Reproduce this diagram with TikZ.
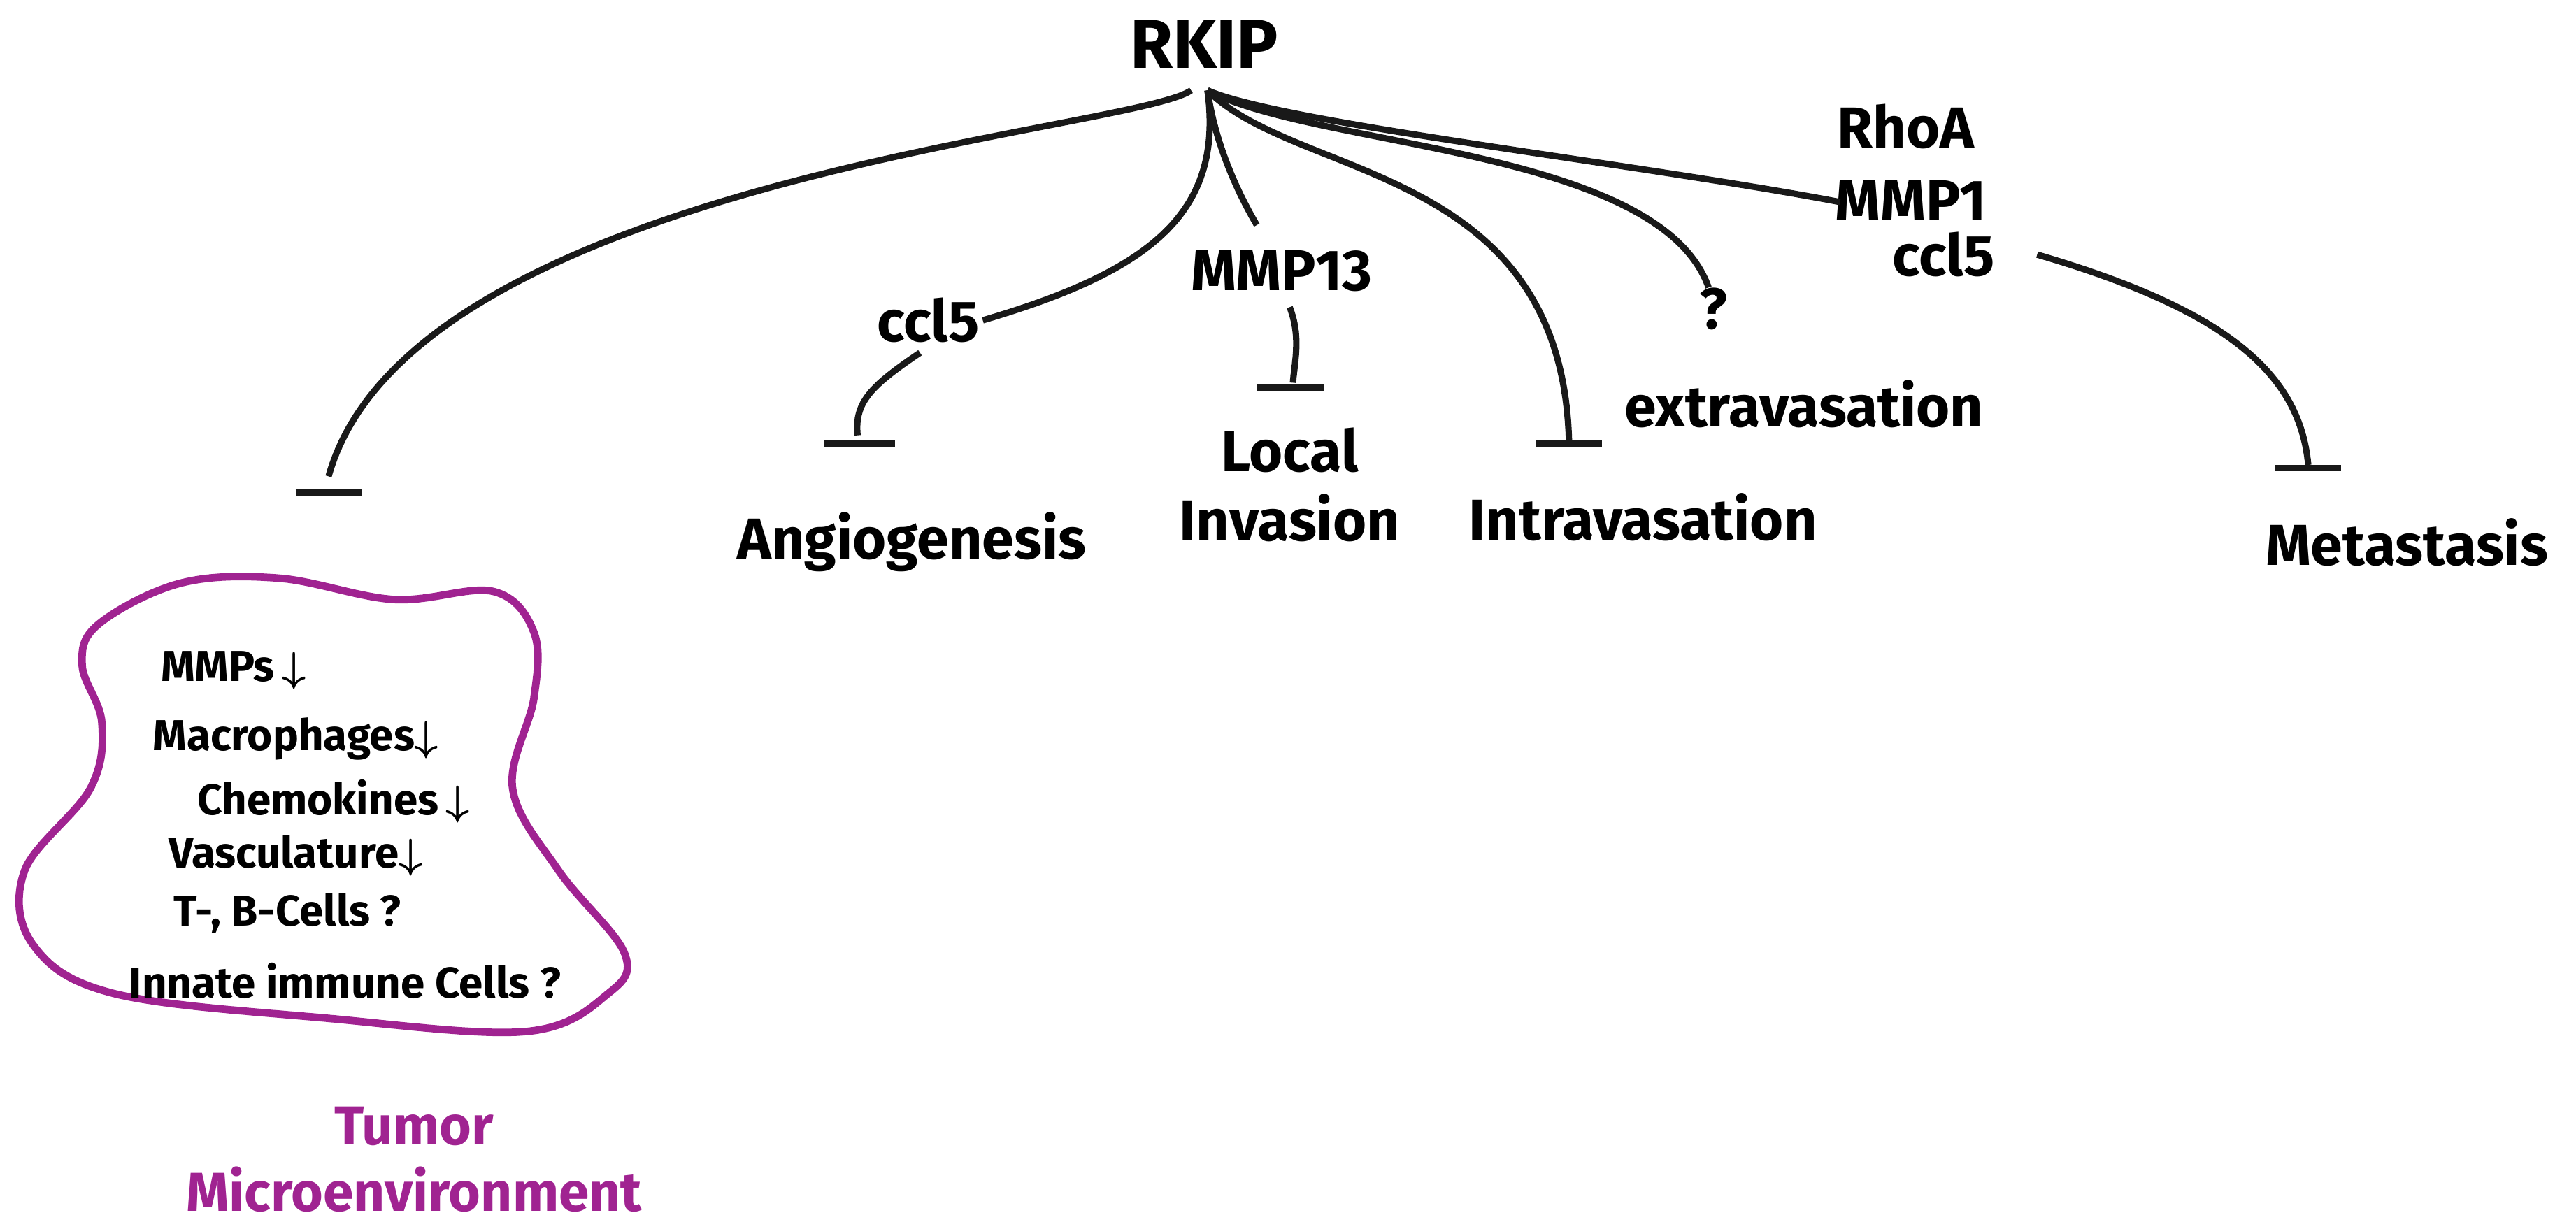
\documentclass[tikz,border=0pt]{standalone}
\usepackage{amsmath}
\usepackage{fontspec}
\setmainfont{Fira Sans}
\definecolor{tumor}{RGB}{160,35,145}
\newcommand{\dnar}{$\boldsymbol{\downarrow}$}
\begin{document}
\begin{tikzpicture}[x=0.02cm,y=-0.02cm,
  line/.style={line width=2.2pt,black!90},
  bar/.style={line width=2.2pt,black!90},
  lab/.style={font=\fontsize{20}{24}\selectfont\bfseries,inner sep=1pt},
  item/.style={font=\fontsize{15}{18}\selectfont\bfseries,inner sep=1pt}]
\useasboundingbox (0,0) rectangle (1568,748);
\node[lab,font=\fontsize{24}{28}\selectfont\bfseries] (rkip) at (733,27) {RKIP};
\coordinate (r) at (735,55);
% left inhibition
\draw[line] (725,55) .. controls (690,80) and (250,110) .. (200,290);
\draw[bar] (180,300) -- (220,300);
% ccl5 / angiogenesis
\node[lab] (c1) at (565,195) {ccl5};
\draw[line] (r) .. controls (745,130) and (700,165) .. (c1.east);
\draw[line] (c1.south) ++(-5,4) .. controls (530,235) and (520,245) .. (522,265);
\draw[bar] (502,270) -- (545,270);
\node[lab] (ang) at (555,330) {Angiogenesis};
% MMP13
\node[lab] (m13) at (780,165) {MMP13};
\draw[line] (r) .. controls (740,90) and (755,120) .. (765,137);
\draw[line] (785,187) .. controls (792,205) and (788,220) .. (787,233);
\draw[bar] (765,236) -- (806,236);
\node[lab,align=center] (li) at (785,295) {Local\\Invasion};
% Intravasation
\draw[line] (r) .. controls (790,110) and (950,100) .. (955,268);
\draw[bar] (935,270) -- (975,270);
\node[lab] (intra) at (1000,315) {Intravasation};
% extravasation
\node[lab] (q) at (1043,188) {?};
\node[lab] (extra) at (1098,246) {extravasation};
\draw[line] (r) .. controls (800,90) and (1010,90) .. (1040,175);
% RhoA
\node[lab] (rhoa) at (1160,77) {RhoA};
\node[lab] (mmp1) at (1163,122) {MMP1};
\node[lab] (c2) at (1183,155) {ccl5};
\draw[line] (r) .. controls (780,75) and (1000,100) .. (1120,123);
\draw[line] (1240,155) .. controls (1360,190) and (1400,230) .. (1405,283);
\draw[bar] (1385,285) -- (1425,285);
\node[lab] (met) at (1465,330) {Metastasis};
% blob
\draw[tumor,line width=2.6pt] plot[smooth cycle,tension=0.6] coordinates
 {(60,380) (110,355) (170,352) (240,365) (300,360) (325,385) (325,425) (312,480) (340,530) (380,580) (370,605) (320,628) (200,620) (70,605) (20,575) (15,530) (55,480) (62,440) (50,405)};
\node[item] (i1) at (142,408) {MMPs\,\dnar};
\node[item] (i2) at (180,450) {Macrophages\dnar};
\node[item] (i3) at (203,488) {Chemokines\,\dnar};
\node[item] (i4) at (180,521) {Vasculature\dnar};
\node[item] (i5) at (175,556) {T-, B-Cells ?};
\node[item] (i6) at (210,597) {Innate immune Cells ?};
\node[lab,text=tumor,align=center,font=\fontsize{19}{23}\selectfont\bfseries] (tm) at (252,706) {Tumor\\Microenvironment};
\end{tikzpicture}
\end{document}
